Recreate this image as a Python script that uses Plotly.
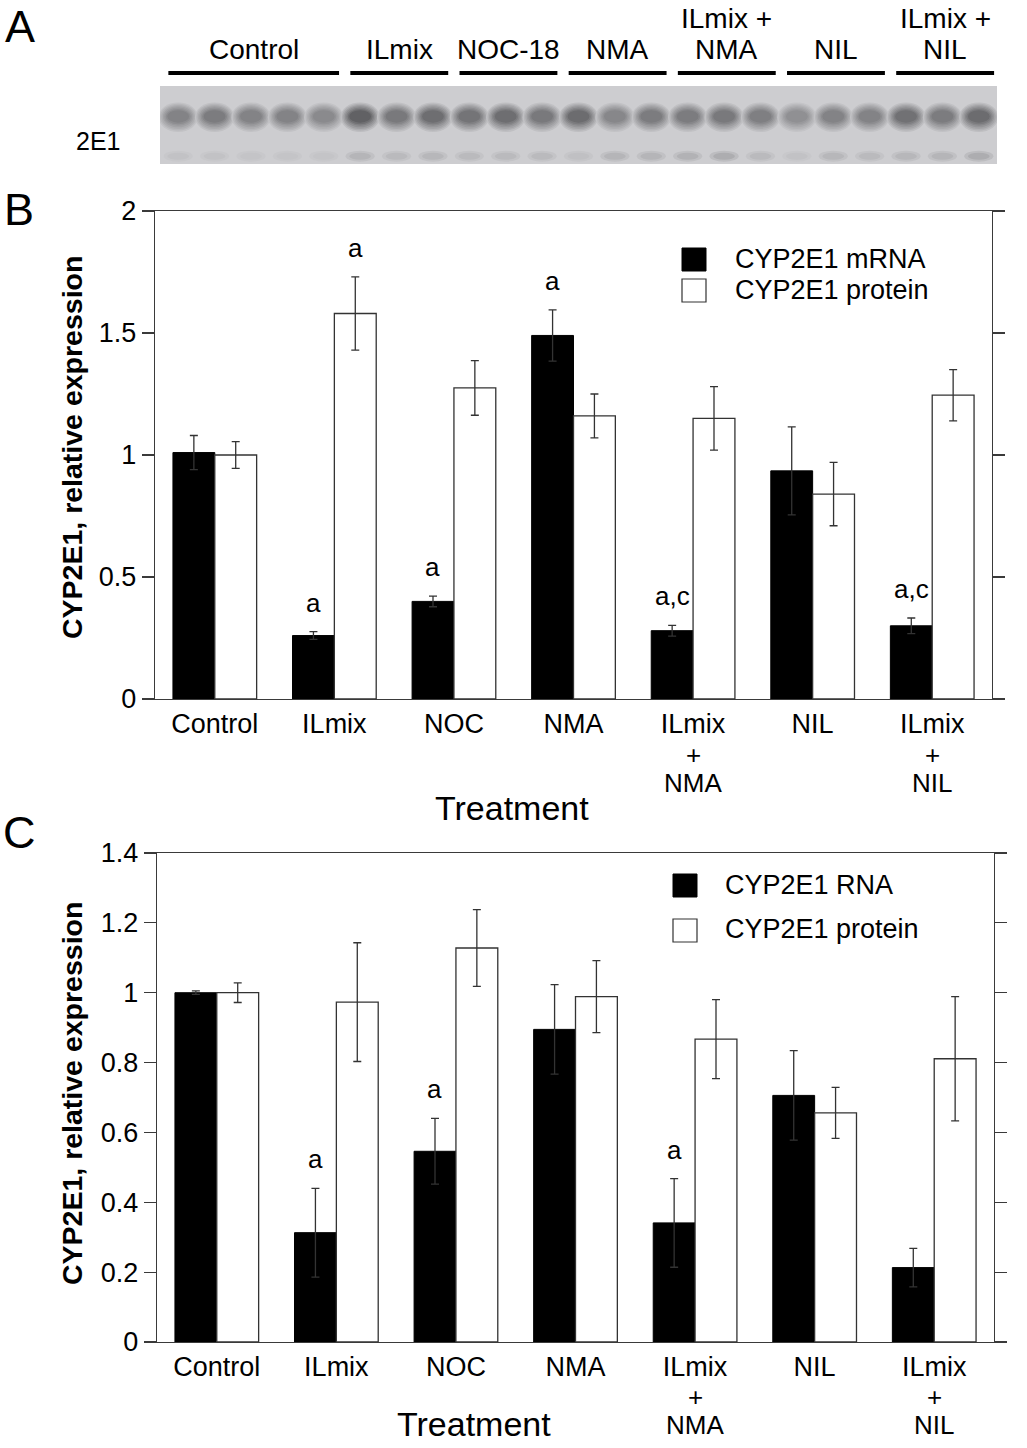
import plotly.graph_objects as go

# ---------------- data ----------------
categories = ["Control", "ILmix", "NOC", "NMA", "ILmix + NMA", "NIL", "ILmix + NIL"]

# Panel B
mrna_b = [1.01, 0.26, 0.40, 1.49, 0.28, 0.935, 0.30]
mrna_b_err = [0.07, 0.016, 0.022, 0.105, 0.022, 0.18, 0.032]
prot_b = [1.00, 1.58, 1.275, 1.16, 1.15, 0.84, 1.245]
prot_b_err = [0.055, 0.15, 0.112, 0.09, 0.13, 0.13, 0.105]
sig_b_mrna = ["", "a", "a", "a", "a,c", "", "a,c"]
sig_b_prot = ["", "a", "", "", "", "", ""]

# Panel C
rna_c = [1.0, 0.313, 0.546, 0.895, 0.341, 0.706, 0.213]
rna_c_err = [0.005, 0.127, 0.094, 0.128, 0.127, 0.128, 0.055]
prot_c = [1.0, 0.973, 1.128, 0.989, 0.867, 0.656, 0.811]
prot_c_err = [0.028, 0.17, 0.11, 0.103, 0.113, 0.073, 0.178]
sig_c_rna = ["", "a", "a", "", "a", "", ""]
sig_c_prot = ["", "", "", "", "", "", ""]

yticks_b = [0, 0.5, 1, 1.5, 2]
yticks_b_text = ["0", "0.5", "1", "1.5", "2"]
yticks_c = [0, 0.2, 0.4, 0.6, 0.8, 1.0, 1.2, 1.4]
yticks_c_text = ["0", "0.2", "0.4", "0.6", "0.8", "1", "1.2", "1.4"]

# Panel A (blot)
blot_groups = ["Control", "ILmix", "NOC-18", "NMA", "ILmix +\nNMA", "NIL", "ILmix +\nNIL"]
blot_lanes = [5, 3, 3, 3, 3, 3, 3]
band_main = [0.55, 0.60, 0.55, 0.55, 0.50,
             0.80, 0.62, 0.70,
             0.66, 0.70, 0.62,
             0.72, 0.52, 0.60,
             0.60, 0.62, 0.58,
             0.45, 0.55, 0.55,
             0.68, 0.60, 0.72]
band_low = [0.08, 0.08, 0.07, 0.07, 0.07,
            0.18, 0.14, 0.16,
            0.14, 0.14, 0.14,
            0.10, 0.18, 0.18,
            0.20, 0.24, 0.14,
            0.08, 0.16, 0.14,
            0.16, 0.18, 0.24]

# ---------------- layout helpers ----------------
W, H = 1027, 1448
OFF = 0  # page body margin is removed below
FONT = "Liberation Sans, Arial, Helvetica, sans-serif"
AX = "#3a3a3a"


def X(px):
    return (px - OFF) / W


def Y(py):
    return 1 - (py - OFF) / H


fig = go.Figure()

err_style = dict(type="data", color="#333333", thickness=1.3, width=4)


def add_pair(black_vals, black_err, white_vals, white_err, xa, ya, nb, nw):
    fig.add_trace(go.Bar(
        x=categories, y=black_vals, name=nb, xaxis=xa, yaxis=ya,
        marker=dict(color="black", line=dict(color="black", width=1)),
        error_y=dict(array=black_err, **err_style), showlegend=False))
    fig.add_trace(go.Bar(
        x=categories, y=white_vals, name=nw, xaxis=xa, yaxis=ya,
        marker=dict(color="white", line=dict(color="#333333", width=1.3)),
        error_y=dict(array=white_err, **err_style), showlegend=False))


add_pair(mrna_b, mrna_b_err, prot_b, prot_b_err, "x", "y", "CYP2E1 mRNA", "CYP2E1 protein")
add_pair(rna_c, rna_c_err, prot_c, prot_c_err, "x2", "y2", "CYP2E1 RNA", "CYP2E1 protein")

# ---------------- axes ----------------
dom_b = dict(x=[X(155), X(992)], y=[Y(699), Y(211)])
dom_c = dict(x=[X(157), X(994)], y=[Y(1342), Y(853)])

first_lines = [c.split(" + ")[0] for c in categories]


def xaxis_style(dom, anchor):
    return dict(domain=dom, anchor=anchor, type="category", categoryorder="array",
                categoryarray=categories, tickvals=categories, ticktext=first_lines,
                showline=True, linecolor=AX, linewidth=1.2, mirror=True, ticks="",
                showgrid=False, zeroline=False, automargin=False,
                tickfont=dict(family=FONT, size=27, color="black"),
                fixedrange=True)


def yaxis_style(dom, anchor, rng, tv, tt):
    return dict(domain=dom, anchor=anchor, range=rng, tickvals=tv, ticktext=tt,
                showline=True, linecolor=AX, linewidth=1.2, mirror="ticks",
                ticks="outside", ticklen=12, tickwidth=1.2, tickcolor=AX,
                showgrid=False, zeroline=False, automargin=False,
                tickfont=dict(family=FONT, size=27, color="black"),
                fixedrange=True)


fig.update_layout(
    xaxis=xaxis_style(dom_b["x"], "y"),
    yaxis=yaxis_style(dom_b["y"], "x", [0, 2], yticks_b, yticks_b_text),
    xaxis2=xaxis_style(dom_c["x"], "y2"),
    yaxis2=yaxis_style(dom_c["y"], "x2", [0, 1.4], yticks_c, yticks_c_text),
    xaxis3=dict(domain=[X(160), X(997)], anchor="y3", range=[-0.5, 22.5], visible=False,
                fixedrange=True, automargin=False),
    yaxis3=dict(domain=[Y(164), Y(86)], anchor="x3", range=[0, 1], visible=False,
                fixedrange=True, automargin=False),
)

annotations = []
shapes = []

# extra lines of multi-line category labels
for xref, first_y in (("x", 726), ("x2", 1368)):
    for c in categories:
        parts = c.split(" + ")
        if len(parts) > 1:
            for k, txt in enumerate(["+", parts[1]]):
                annotations.append(dict(
                    x=c, xref=xref, y=Y(first_y + 28.5 * (k + 1)), yref="paper",
                    text=txt, showarrow=False, yanchor="middle", xanchor="center",
                    font=dict(family=FONT, size=26, color="black")))

# significance letters
for xref, yref, sig, vals, errs, shift in (
        ("x", "y", sig_b_mrna, mrna_b, mrna_b_err, -21),
        ("x", "y", sig_b_prot, prot_b, prot_b_err, 21),
        ("x2", "y2", sig_c_rna, rna_c, rna_c_err, -21),
        ("x2", "y2", sig_c_prot, prot_c, prot_c_err, 21)):
    for c, s, v, e in zip(categories, sig, vals, errs):
        if s:
            annotations.append(dict(
                x=c, xref=xref, y=v + e, yref=yref, xshift=shift, yshift=29,
                text=s, showarrow=False, yanchor="middle", xanchor="center",
                font=dict(family=FONT, size=26, color="black")))

# axis titles
for txt, x, y in (("Treatment", 512, 808), ("Treatment", 474, 1424)):
    annotations.append(dict(x=X(x), y=Y(y), xref="paper", yref="paper", text=txt,
                            showarrow=False, xanchor="center", yanchor="middle",
                            font=dict(family=FONT, size=34, color="black")))
for y in (448, 1094):
    annotations.append(dict(x=X(72), y=Y(y), xref="paper", yref="paper",
                            text="<b>CYP2E1, relative expression</b>", textangle=-90,
                            showarrow=False, xanchor="center", yanchor="middle",
                            font=dict(family=FONT, size=28.5, color="black")))

# panel letters
for txt, x, y in (("A", 20, 26), ("B", 19, 210), ("C", 19, 832)):
    annotations.append(dict(x=X(x), y=Y(y), xref="paper", yref="paper", text=txt,
                            showarrow=False, xanchor="center", yanchor="middle",
                            font=dict(family=FONT, size=45, color="black")))

# manual legends
for (bx, by_black, by_white, tx, ty1, ty2, lab1) in (
        (682, 248, 279, 733, 259, 290, "CYP2E1 mRNA"),
        (673, 874, 919, 723, 885, 929, "CYP2E1 RNA")):
    shapes.append(dict(type="rect", xref="paper", yref="paper",
                       x0=X(bx), x1=X(bx + 24), y0=Y(by_black + 23), y1=Y(by_black),
                       fillcolor="black", line=dict(color="black", width=1)))
    shapes.append(dict(type="rect", xref="paper", yref="paper",
                       x0=X(bx), x1=X(bx + 24), y0=Y(by_white + 23), y1=Y(by_white),
                       fillcolor="white", line=dict(color="#333333", width=1.2)))
    for txt, ty in ((lab1, ty1), ("CYP2E1 protein", ty2)):
        annotations.append(dict(x=X(tx), y=Y(ty), xref="paper", yref="paper", text=txt,
                                showarrow=False, xanchor="left", yanchor="middle",
                                font=dict(family=FONT, size=27, color="black")))

# ---------------- panel A blot ----------------
shapes.append(dict(type="rect", xref="x3", yref="y3", x0=-0.5, x1=22.5, y0=0, y1=1,
                   fillcolor="rgb(205,205,208)", line=dict(width=0), layer="below"))


def gray(d):
    v = int(round(205 - d * 135))
    return f"rgb({v},{v},{v + 3})"


N_LAYERS = 7
for i, (dm, dl) in enumerate(zip(band_main, band_low)):
    for k in range(N_LAYERS):
        t = k / (N_LAYERS - 1)
        wx = 0.54 - 0.24 * t
        hy = 0.19 - 0.11 * t
        cy = 0.60 + 0.01 * t
        shapes.append(dict(type="circle", xref="x3", yref="y3", x0=i - wx, x1=i + wx,
                           y0=cy - hy, y1=cy + hy, fillcolor=gray(dm * (0.15 + 0.85 * t)),
                           line=dict(width=0)))
    for wx, hy, f in ((0.40, 0.07, 0.5), (0.30, 0.045, 1.0)):
        shapes.append(dict(type="circle", xref="x3", yref="y3", x0=i - wx, x1=i + wx,
                           y0=0.10 - hy, y1=0.10 + hy, fillcolor=gray(dl * f),
                           line=dict(width=0)))

lane = 0
for g, n in zip(blot_groups, blot_lanes):
    a, b = lane, lane + n - 1
    shapes.append(dict(type="line", xref="x3", yref="paper", x0=a - 0.27, x1=b + 0.42,
                       y0=Y(73), y1=Y(73), line=dict(color="black", width=4)))
    lines = g.split("\n")
    for k, txt in enumerate(reversed(lines)):
        annotations.append(dict(x=(a + b) / 2 + 0.08, xref="x3", y=Y(50 - 32 * k), yref="paper",
                                text=txt, showarrow=False, xanchor="center", yanchor="middle",
                                font=dict(family=FONT, size=28, color="black")))
    lane += n

annotations.append(dict(x=X(98), y=Y(141), xref="paper", yref="paper", text="2E1",
                        showarrow=False, xanchor="center", yanchor="middle",
                        font=dict(family=FONT, size=25, color="black")))

fig.update_layout(
    width=W, height=H, autosize=False,
    margin=dict(l=0, r=0, t=0, b=0, pad=0),
    paper_bgcolor="white", plot_bgcolor="white",
    barmode="group", bargap=0.3, bargroupgap=0,
    showlegend=False, hovermode=False,
    annotations=annotations, shapes=shapes,
    font=dict(family=FONT, color="black"),
)

fig.write_html("out.html",
               config={"displayModeBar": False, "staticPlot": True},
               post_script="document.body.style.margin='0';document.body.style.padding='0';")
